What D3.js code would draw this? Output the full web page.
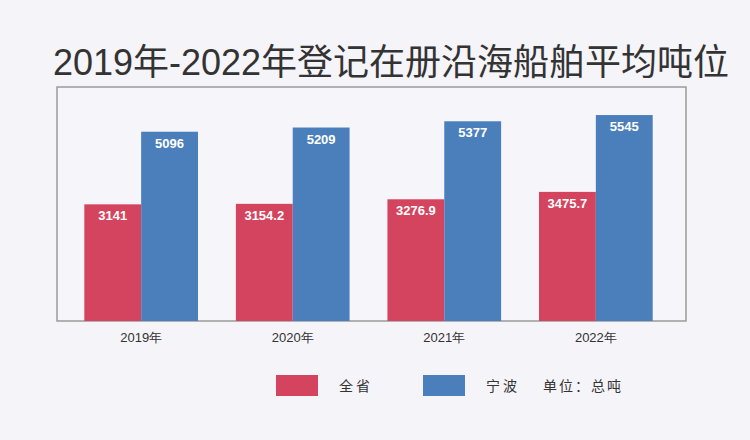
<script src="https://cdn.jsdelivr.net/npm/d3@7/dist/d3.min.js"></script>
<style>
body { margin: 0; background: #f5f4f9; }
svg { display: block; font-family: "Liberation Sans", Arial, "Noto Sans CJK SC", sans-serif; }
</style>
<body>
</body>
<script>
var years = ["2019年", "2020年", "2021年", "2022年"];
var province = [3141, 3154.2, 3276.9, 3475.7];
var ningbo = [5096, 5209, 5377, 5545];
var seriesNames = ["全省", "宁波"];
var unitLabel = "单位：总吨";
var titleText = "2019年-2022年登记在册沿海船舶平均吨位";

const width = 750, height = 440;
const box = { left: 57, right: 686, top: 87, bottom: 321 };
const colors = ["#d4445f", "#4b7fbb"];

const svg = d3.select("body").append("svg")
  .attr("width", width)
  .attr("height", height);

svg.append("rect").attr("width", width).attr("height", height).attr("fill", "#f5f4f9");

// title
svg.append("text")
  .attr("x", 391)
  .attr("y", 75)
  .attr("text-anchor", "middle")
  .attr("fill", "#333")
  .style("font-size", "36px")
  .text(titleText);

// frame
svg.append("rect")
  .attr("x", box.left).attr("y", box.top)
  .attr("width", box.right - box.left).attr("height", box.bottom - box.top)
  .attr("fill", "#f6f5fa")
  .attr("stroke", "#9a9a9a")
  .attr("stroke-width", 1.5);

var x = d3.scaleBand().domain(years).range([54, 683]).paddingInner(0.25).paddingOuter(0.2);
var xs = d3.scaleBand().domain([0, 1]).range([0, x.bandwidth()]);
var y = d3.scaleLinear().domain([0, 6300]).range([box.bottom, box.top]);

var rows = years.map(function(yr, i) { return { year: yr, vals: [province[i], ningbo[i]] }; });

var groups = svg.selectAll("g.grp").data(rows).enter().append("g")
  .attr("class", "grp")
  .attr("transform", function(d) { return "translate(" + x(d.year) + ",0)"; });

groups.selectAll("rect").data(function(d) { return d.vals; }).enter().append("rect")
  .attr("x", function(d, i) { return xs(i); })
  .attr("y", function(d) { return y(d); })
  .attr("width", xs.bandwidth())
  .attr("height", function(d) { return box.bottom - y(d); })
  .attr("fill", function(d, i) { return colors[i]; });

groups.selectAll("text.val").data(function(d) { return d.vals; }).enter().append("text")
  .attr("class", "val")
  .attr("x", function(d, i) { return xs(i) + xs.bandwidth() / 2; })
  .attr("y", function(d) { return y(d) + 16; })
  .attr("text-anchor", "middle")
  .attr("fill", "#ffffff")
  .style("font-size", "13px")
  .style("font-weight", "bold")
  .text(function(d) { return d; });

// x axis
var xAxis = svg.append("g")
  .attr("transform", "translate(0," + box.bottom + ")")
  .call(d3.axisBottom(x).tickSize(0).tickPadding(12));
xAxis.select(".domain").remove();
xAxis.selectAll("text").style("font-size", "13px").attr("fill", "#333");

// legend
var legendX = [276, 423];
seriesNames.forEach(function(name, i) {
  svg.append("rect")
    .attr("x", legendX[i]).attr("y", 375)
    .attr("width", 42).attr("height", 21)
    .attr("fill", colors[i]);
  svg.append("text")
    .attr("x", legendX[i] + 63).attr("y", 391)
    .attr("fill", "#333")
    .style("font-size", "14px")
    .style("font-family", "'Noto Sans CJK SC', sans-serif")
    .style("letter-spacing", "3px")
    .text(name);
});
svg.append("text")
  .attr("x", 543).attr("y", 391)
  .attr("fill", "#333")
  .style("font-size", "14px")
  .style("font-family", "'Noto Sans CJK SC', sans-serif")
  .style("letter-spacing", "2px")
  .text(unitLabel);
</script>
